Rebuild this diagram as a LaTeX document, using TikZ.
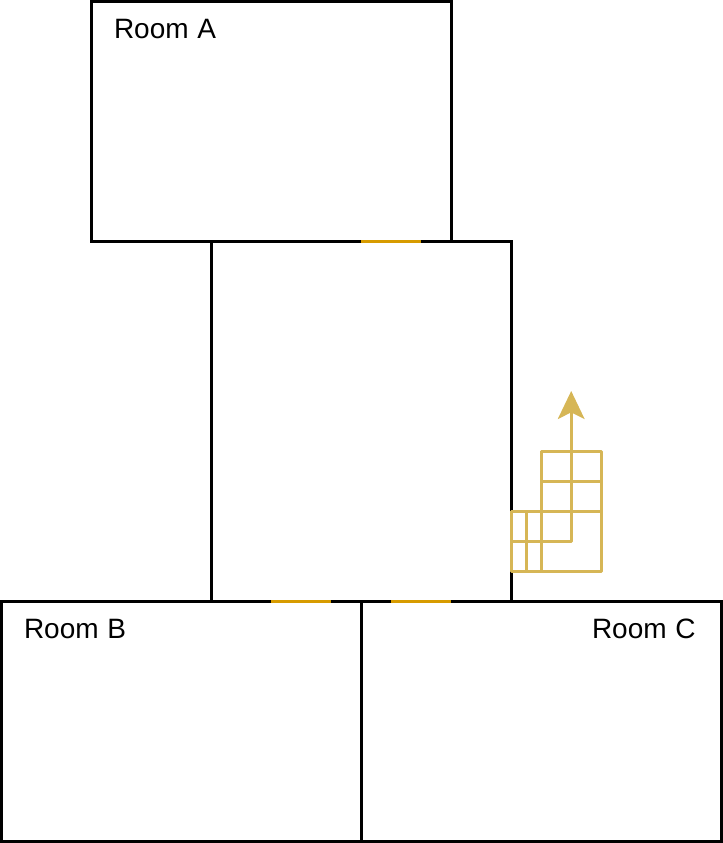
\documentclass[tikz,border=0pt]{standalone}
\usepackage{fontspec}
\setmainfont{Liberation Sans}
\usetikzlibrary{arrows.meta}
\definecolor{doorgold}{HTML}{D79B00}
\definecolor{pathgold}{HTML}{D6B656}
\tikzset{
  room/.style={draw=black,line width=2.25pt,fill=none,inner sep=0pt,outer sep=0pt,anchor=north west},
  roomlabel/.style={inner sep=0pt,outer sep=0pt,anchor=base west,font=\fontsize{21pt}{25pt}\selectfont},
  door/.style={draw=doorgold,line width=2.25pt},
  route/.style={draw=pathgold,line width=2.25pt,line join=round},
  routearrow/.style={route,-{Stealth[length=21pt,width=20pt,inset=5pt]}}
}
\newcommand{\roomtext}[2]{#1\hspace{0.31em}#2}
\begin{document}
\begin{tikzpicture}[x=0.75pt,y=-0.75pt]
\useasboundingbox (0,0) rectangle (723,843);
\node[room,minimum width=270pt,minimum height=180pt] (roomA) at (91.2,1.2) {};
\node[room,minimum width=225pt,minimum height=270pt] (hall) at (211.2,241.2) {};
\node[room,minimum width=270pt,minimum height=180pt] (roomB) at (1.2,601.2) {};
\node[room,minimum width=270pt,minimum height=180pt] (roomC) at (361.2,601.2) {};
\node[roomlabel] (labelA) at (114,38.5) {\roomtext{Room}{A}};
\node[roomlabel] (labelB) at (24,638.5) {\roomtext{Room}{B}};
\node[roomlabel] (labelC) at (592,638.5) {\roomtext{Room}{C}};
\coordinate (d1a) at (361.2,241.2); \coordinate (d1b) at (421.2,241.2);
\coordinate (d2a) at (271.2,601.2); \coordinate (d2b) at (331.2,601.2);
\coordinate (d3a) at (391.2,601.2); \coordinate (d3b) at (451.2,601.2);
\draw[door] (d1a) -- (d1b);
\draw[door] (d2a) -- (d2b);
\draw[door] (d3a) -- (d3b);
\draw[route] (541.2,451.2) rectangle (601.2,571.2);
\draw[route] (511.2,511.2) rectangle (541.2,571.2);
\draw[route] (541.2,481.2) -- (601.2,481.2);
\draw[route] (541.2,511.2) -- (601.2,511.2);
\draw[route] (526.2,511.2) -- (526.2,571.2);
\coordinate (tip) at (571.2,391);
\draw[routearrow] (511.2,541.2) -- (571.2,541.2) -- (tip);
\end{tikzpicture}
\end{document}
